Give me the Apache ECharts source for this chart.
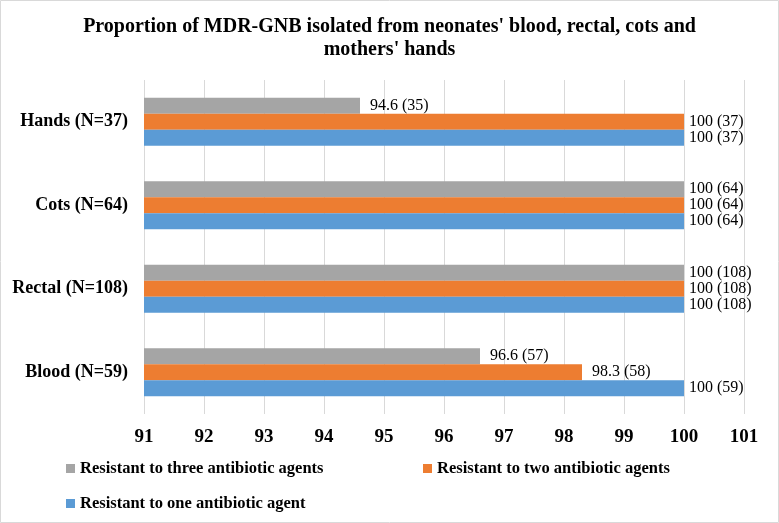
<!DOCTYPE html>
<html>
<head>
<meta charset="utf-8">
<script src="https://cdn.jsdelivr.net/npm/echarts@6/dist/echarts.min.js"></script>
<style>
  html, body { margin: 0; padding: 0; background: #fff; }
  #chart { width: 779px; height: 523px; }
</style>
</head>
<body>
<div id="chart"></div>
<script>
const categories = ['Blood (N=59)', 'Rectal (N=108)', 'Cots (N=64)', 'Hands (N=37)']
const xTicks = [91, 101, 1] // min, max, interval

const oneAgent = [100, 100, 100, 100]
const oneAgentN = [59, 108, 64, 37]
const twoAgents = [98.3, 100, 100, 100]
const twoAgentsN = [58, 108, 64, 37]
const threeAgents = [96.6, 100, 100, 94.6]
const threeAgentsN = [57, 108, 64, 35]

const names = [
  'Resistant to one antibiotic agent',
  'Resistant to two antibiotic agents',
  'Resistant to three antibiotic agents'
]
const colors = ['#5B9BD5', '#ED7D31', '#A5A5A5']
const font = 'Liberation Serif, Times New Roman, serif'

function makeSeries(name, values, counts, color) {
  return {
    name: name,
    type: 'bar',
    // labels of shorter bars sit a little further out, as in the source
    data: values.map(v => ({ value: v, label: { distance: v < 100 ? 10 : 5 } })),
    barWidth: 16,
    barGap: '0%',
    itemStyle: { color: color },
    label: {
      show: true,
      position: 'right',
      color: '#000',
      fontFamily: font,
      fontSize: 16,
      formatter: p => p.value + ' (' + counts[p.dataIndex] + ')'
    }
  }
}

function makeLegend(name, left, top) {
  return {
    data: [name],
    left: left,
    top: top,
    padding: 0,
    icon: 'rect',
    itemWidth: 9,
    itemHeight: 9,
    textStyle: { fontFamily: font, fontSize: 16.5, fontWeight: 'bold', color: '#000' }
  }
}

const chart = echarts.init(document.getElementById('chart'))
chart.setOption({
  animation: false,
  title: {
    text: "Proportion of MDR-GNB isolated from neonates' blood, rectal, cots and\nmothers' hands",
    left: 'center',
    top: 15,
    padding: 0,
    textStyle: { fontFamily: font, fontSize: 20, fontWeight: 'bold', color: '#000', lineHeight: 23 }
  },
  graphic: [{
    type: 'rect',
    shape: { x: 0.5, y: 0.5, width: 778, height: 522 },
    style: { fill: 'none', stroke: '#d9d9d9', lineWidth: 1 }
  }],
  legend: [
    makeLegend(names[2], 66, 460),
    makeLegend(names[1], 423, 460),
    makeLegend(names[0], 66, 495)
  ],
  grid: { left: 144, right: 35, top: 80, bottom: 109 },
  xAxis: {
    type: 'value',
    min: xTicks[0],
    max: xTicks[1],
    interval: xTicks[2],
    axisLine: { show: false },
    axisTick: { show: false },
    splitLine: { lineStyle: { color: '#d9d9d9' } },
    axisLabel: { fontFamily: font, fontSize: 19, fontWeight: 'bold', color: '#000', margin: 14 }
  },
  yAxis: {
    type: 'category',
    data: categories,
    axisLine: { show: false },
    axisTick: { show: false },
    axisLabel: { fontFamily: font, fontSize: 18, fontWeight: 'bold', color: '#000', margin: 16 }
  },
  // first series is drawn on top within each group, so three comes first
  series: [
    makeSeries(names[2], threeAgents, threeAgentsN, colors[2]),
    makeSeries(names[1], twoAgents, twoAgentsN, colors[1]),
    makeSeries(names[0], oneAgent, oneAgentN, colors[0])
  ]
})
</script>
</body>
</html>
